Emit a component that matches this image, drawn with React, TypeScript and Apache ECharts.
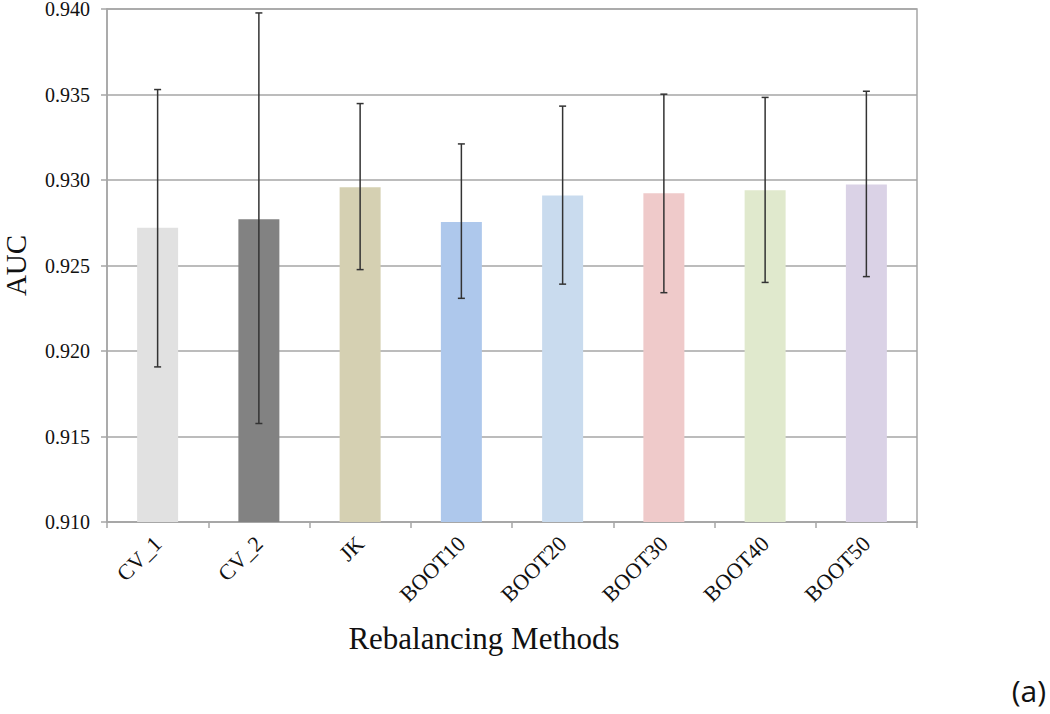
import React, { useEffect, useRef } from "react";
import * as echarts from "echarts";

const categories = ["CV_1", "CV_2", "JK", "BOOT10", "BOOT20", "BOOT30", "BOOT40", "BOOT50"];
const aucMeans = [0.92721, 0.9277, 0.92957, 0.92754, 0.9291, 0.92922, 0.9294, 0.92974];
const aucLower = [0.91907, 0.91576, 0.92476, 0.92308, 0.92391, 0.92341, 0.92401, 0.92435];
const aucUpper = [0.93529, 0.93977, 0.93447, 0.93211, 0.93432, 0.93502, 0.93483, 0.93519];
const barColors = ["#e1e1e1", "#828282", "#d5d0b2", "#aec8ec", "#c9dbee", "#efcaca", "#e0e9cd", "#dad2e6"];
const yTicks = { min: 0.91, max: 0.94, interval: 0.005 };

const SERIF = "'Liberation Serif', 'Times New Roman', serif";

export default function App() {
  const ref = useRef<HTMLDivElement>(null);
  useEffect(() => {
    document.body.style.margin = "0";
    const chart = echarts.init(ref.current!, null, { renderer: "svg" });
    const option: any = {
      animation: false,
      backgroundColor: "#ffffff",
      grid: {
        left: 107,
        right: 133,
        top: 9,
        bottom: 192,
        containLabel: false,
        outerBoundsMode: "none",
        show: true,
        borderColor: "#a6a6a6",
        borderWidth: 1.5,
      },
      xAxis: {
        type: "category",
        data: categories,
        boundaryGap: true,
        name: "Rebalancing Methods",
        nameLocation: "middle",
        nameGap: 101,
        nameTextStyle: { fontFamily: SERIF, fontSize: 31, color: "#111", padding: [0, 56, 0, 0] },
        axisLine: { show: true, lineStyle: { color: "#a6a6a6", width: 1.5 } },
        axisTick: { show: true, length: 6, alignWithLabel: false, lineStyle: { color: "#a6a6a6", width: 1.5 } },
        axisLabel: {
          rotate: 45,
          margin: 18,
          fontFamily: SERIF,
          fontSize: 22,
          color: "#111",
          interval: 0,
        },
        splitLine: { show: false },
      },
      yAxis: {
        type: "value",
        min: yTicks.min,
        max: yTicks.max,
        interval: yTicks.interval,
        name: "AUC",
        nameLocation: "middle",
        nameGap: 78,
        nameRotate: 90,
        nameTextStyle: { fontFamily: SERIF, fontSize: 29, color: "#111", lineHeight: 26 },
        axisLine: { show: true, lineStyle: { color: "#a6a6a6", width: 1.5 } },
        axisTick: { show: true, inside: false, length: 6, lineStyle: { color: "#a6a6a6", width: 1.5 } },
        axisLabel: {
          margin: 17,
          fontFamily: SERIF,
          fontSize: 20,
          lineHeight: 16,
          color: "#111",
          formatter: (v: number) => v.toFixed(3),
        },
        splitLine: { show: true, lineStyle: { color: "#a6a6a6", width: 1.5 } },
      },
      series: [
        {
          type: "bar",
          barWidth: 41,
          data: aucMeans.map((v, i) => ({ value: v, itemStyle: { color: barColors[i] } })),
          z: 2,
        },
        {
          type: "custom",
          z: 5,
          data: categories.map((_, i) => [i, aucLower[i], aucUpper[i]]),
          encode: { x: 0, y: [1, 2] },
          renderItem: (params: any, api: any) => {
            const x = api.value(0);
            const top = api.coord([x, api.value(2)]);
            const bot = api.coord([x, api.value(1)]);
            const hw = 3.5;
            const style = { stroke: "#333333", lineWidth: 1.5 };
            return {
              type: "group",
              children: [
                { type: "line", shape: { x1: top[0], y1: top[1], x2: bot[0], y2: bot[1] }, style },
                { type: "line", shape: { x1: top[0] - hw, y1: top[1], x2: top[0] + hw, y2: top[1] }, style },
                { type: "line", shape: { x1: bot[0] - hw, y1: bot[1], x2: bot[0] + hw, y2: bot[1] }, style },
              ],
            };
          },
        },
      ],
      graphic: [
        {
          type: "text",
          x: 1046,
          y: 690,
          style: {
            text: "(a)",
            fontFamily: "'Open Sans', 'Noto Sans', sans-serif",
            fontSize: 30,
            fill: "#111",
            align: "right",
            verticalAlign: "middle",
          },
        },
      ],
    };
    chart.setOption(option);
    return () => chart.dispose();
  }, []);
  return <div ref={ref} style={{ width: 1050, height: 714 }} />;
}
